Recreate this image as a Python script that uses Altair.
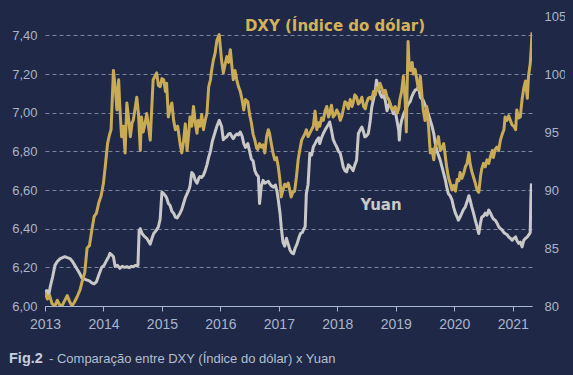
import altair as alt
import pandas as pd

# ---------------- data ----------------
dxy_year = [
    2013.00, 2013.04, 2013.08, 2013.12, 2013.17, 2013.21, 2013.25, 2013.29, 2013.33, 2013.38,
    2013.42, 2013.46, 2013.50, 2013.55, 2013.60, 2013.64, 2013.68, 2013.72, 2013.76, 2013.80,
    2013.84, 2013.88, 2013.92, 2013.96, 2014.00, 2014.03, 2014.07, 2014.10, 2014.13, 2014.17,
    2014.20, 2014.23, 2014.26, 2014.28, 2014.31, 2014.34, 2014.37, 2014.40, 2014.43, 2014.46,
    2014.49, 2014.51, 2014.54, 2014.57, 2014.60, 2014.63, 2014.65, 2014.68, 2014.71, 2014.74,
    2014.77, 2014.80, 2014.83, 2014.85, 2014.88, 2014.91, 2014.94, 2014.97, 2015.00, 2015.03,
    2015.06, 2015.08, 2015.11, 2015.14, 2015.17, 2015.20, 2015.23, 2015.27, 2015.31, 2015.34,
    2015.37, 2015.40, 2015.43, 2015.46, 2015.48, 2015.51, 2015.54, 2015.57, 2015.60, 2015.62,
    2015.65, 2015.68, 2015.71, 2015.74, 2015.77, 2015.80, 2015.83, 2015.85, 2015.88, 2015.91,
    2015.94, 2015.98, 2016.02, 2016.05, 2016.08, 2016.11, 2016.14, 2016.17, 2016.20, 2016.22,
    2016.25, 2016.28, 2016.31, 2016.34, 2016.37, 2016.40, 2016.43, 2016.47, 2016.50, 2016.53,
    2016.56, 2016.59, 2016.62, 2016.64, 2016.67, 2016.70, 2016.73, 2016.76, 2016.79, 2016.82,
    2016.84, 2016.87, 2016.90, 2016.93, 2016.96, 2016.99, 2017.02, 2017.04, 2017.07, 2017.10,
    2017.13, 2017.16, 2017.19, 2017.21, 2017.24, 2017.27, 2017.30, 2017.33, 2017.36, 2017.39,
    2017.42, 2017.45, 2017.47, 2017.50, 2017.53, 2017.56, 2017.59, 2017.62, 2017.65, 2017.68,
    2017.70, 2017.73, 2017.76, 2017.79, 2017.82, 2017.85, 2017.87, 2017.90, 2017.93, 2017.96,
    2017.99, 2018.02, 2018.05, 2018.08, 2018.10, 2018.13, 2018.16, 2018.19, 2018.22, 2018.25,
    2018.27, 2018.30, 2018.33, 2018.36, 2018.39, 2018.42, 2018.45, 2018.48, 2018.50, 2018.53,
    2018.56, 2018.59, 2018.62, 2018.65, 2018.67, 2018.70, 2018.73, 2018.76, 2018.79, 2018.82,
    2018.85, 2018.88, 2018.90, 2018.93, 2018.96, 2018.99, 2019.02, 2019.05, 2019.07, 2019.10,
    2019.13, 2019.16, 2019.18, 2019.21, 2019.23, 2019.25, 2019.28, 2019.30, 2019.33, 2019.36,
    2019.39, 2019.42, 2019.45, 2019.47, 2019.50, 2019.53, 2019.56, 2019.59, 2019.62, 2019.65,
    2019.67, 2019.70, 2019.73, 2019.76, 2019.79, 2019.82, 2019.85, 2019.87, 2019.90, 2019.93,
    2019.96, 2019.99, 2020.02, 2020.05, 2020.08, 2020.10, 2020.13, 2020.16, 2020.19, 2020.22,
    2020.25, 2020.27, 2020.30, 2020.33, 2020.36, 2020.39, 2020.42, 2020.45, 2020.47, 2020.50,
    2020.53, 2020.56, 2020.59, 2020.62, 2020.65, 2020.67, 2020.70, 2020.73, 2020.76, 2020.79,
    2020.82, 2020.85, 2020.87, 2020.90, 2020.93, 2020.96, 2020.99, 2021.02, 2021.05, 2021.07,
    2021.10, 2021.13, 2021.16, 2021.19, 2021.22, 2021.25, 2021.27, 2021.30, 2021.32, 2021.33,
]
dxy_value = [
    81.2, 80.6, 80.9, 80.2, 80.0, 80.5, 80.1, 80.0, 80.4, 80.9,
    80.4, 80.0, 80.3, 80.8, 81.4, 82.2, 82.9, 85.0, 85.2, 86.5,
    87.7, 88.0, 88.9, 89.5, 90.6, 92.0, 94.0, 94.7, 95.2, 100.3,
    98.9, 96.9, 99.5, 97.2, 94.6, 95.5, 93.2, 97.5, 96.2, 94.6,
    95.8, 96.0, 97.0, 98.0, 96.5, 93.4, 96.3, 95.0, 95.7, 96.6,
    95.5, 94.3, 97.5, 99.5, 99.8, 100.1, 99.0, 98.9, 99.6, 99.5,
    98.5, 99.2, 96.3, 97.0, 97.5, 96.0, 95.2, 95.5, 94.0, 93.2,
    94.2, 95.7, 93.4, 95.0, 96.3, 95.5, 97.2, 95.8, 94.9, 96.0,
    95.5, 96.5, 95.2, 96.0, 96.6, 98.9, 99.5, 100.3, 101.2, 101.8,
    102.9, 103.4, 101.2, 100.1, 100.8, 101.5, 101.0, 102.1, 100.5, 99.5,
    100.3, 99.5, 98.9, 98.5, 97.8, 96.9, 97.8, 97.6, 96.5, 95.8,
    94.8, 94.3, 93.6, 93.5, 94.0, 93.7, 93.9, 93.2, 94.6, 95.2,
    94.9, 94.0, 93.2, 92.6, 92.8, 92.0, 90.8, 89.4, 90.0, 90.5,
    90.3, 90.6, 89.9, 89.4, 89.8, 89.9, 91.1, 92.6, 93.5, 94.3,
    94.6, 94.9, 95.2, 94.6, 94.9, 95.2, 95.5, 96.8, 95.2, 95.8,
    95.5, 96.2, 96.0, 96.8, 97.2, 96.3, 96.6, 97.3, 96.3, 96.5,
    96.9, 96.6, 96.0, 96.4, 96.9, 97.6, 97.5, 97.0, 97.8, 97.2,
    97.5, 98.2, 98.0, 97.4, 97.6, 98.0, 97.2, 97.0, 97.5, 97.9,
    98.0, 97.8, 98.5, 98.2, 98.8, 98.6, 99.2, 98.8, 98.3, 98.6,
    98.0, 97.8, 97.5, 97.0, 96.9, 97.2, 96.6, 97.0, 97.8, 98.5,
    99.8, 97.8, 95.0, 102.8, 100.6, 100.3, 101.0, 100.0, 100.4, 99.5,
    98.6, 99.8, 98.0, 96.9, 96.0, 97.2, 95.5, 93.2, 93.5, 92.6,
    93.7, 94.0, 94.6, 93.4, 93.6, 94.0, 92.8, 92.0, 91.1, 90.6,
    90.0, 90.4, 89.9, 90.9, 90.8, 91.5, 91.0, 91.4, 92.0, 92.3,
    93.2, 92.3, 91.6, 91.1, 90.6, 90.0, 89.8, 91.2, 91.8, 92.3,
    92.0, 92.6, 92.3, 92.9, 93.4, 92.8, 93.5, 93.7, 93.4, 94.3,
    94.8, 95.2, 96.3, 96.0, 96.4, 96.0, 95.6, 95.5, 95.2, 96.9,
    96.2, 96.3, 97.8, 98.8, 99.4, 97.9, 99.8, 100.9, 102.5, 103.6,
]

yuan_year = [
    2013.00, 2013.03, 2013.06, 2013.09, 2013.13, 2013.17, 2013.21, 2013.26, 2013.30, 2013.34,
    2013.38, 2013.43, 2013.47, 2013.51, 2013.55, 2013.59, 2013.63, 2013.67, 2013.71, 2013.76,
    2013.80, 2013.84, 2013.88, 2013.92, 2013.97, 2014.01, 2014.06, 2014.09, 2014.11, 2014.14,
    2014.17, 2014.20, 2014.24, 2014.28, 2014.32, 2014.36, 2014.40, 2014.44, 2014.48, 2014.51,
    2014.55, 2014.59, 2014.61, 2014.63, 2014.66, 2014.70, 2014.74, 2014.78, 2014.80, 2014.83,
    2014.86, 2014.90, 2014.94, 2014.97, 2015.00, 2015.03, 2015.06, 2015.08, 2015.11, 2015.14,
    2015.17, 2015.20, 2015.23, 2015.26, 2015.29, 2015.31, 2015.34, 2015.37, 2015.40, 2015.43,
    2015.46, 2015.48, 2015.51, 2015.54, 2015.57, 2015.60, 2015.63, 2015.65, 2015.68, 2015.71,
    2015.74, 2015.77, 2015.80, 2015.83, 2015.86, 2015.88, 2015.91, 2015.94, 2015.98, 2016.02,
    2016.05, 2016.08, 2016.11, 2016.14, 2016.17, 2016.20, 2016.22, 2016.25, 2016.28, 2016.31,
    2016.34, 2016.37, 2016.40, 2016.43, 2016.47, 2016.50, 2016.53, 2016.56, 2016.59, 2016.62,
    2016.65, 2016.67, 2016.70, 2016.73, 2016.76, 2016.79, 2016.82, 2016.85, 2016.88, 2016.91,
    2016.94, 2016.97, 2016.99, 2017.02, 2017.04, 2017.07, 2017.10, 2017.13, 2017.16, 2017.19,
    2017.22, 2017.25, 2017.28, 2017.31, 2017.34, 2017.37, 2017.40, 2017.43, 2017.45, 2017.47,
    2017.50, 2017.53, 2017.56, 2017.59, 2017.62, 2017.65, 2017.68, 2017.70, 2017.73, 2017.76,
    2017.79, 2017.82, 2017.85, 2017.87, 2017.90, 2017.93, 2017.96, 2017.99, 2018.02, 2018.05,
    2018.08, 2018.10, 2018.13, 2018.16, 2018.19, 2018.22, 2018.25, 2018.27, 2018.30, 2018.33,
    2018.36, 2018.39, 2018.42, 2018.45, 2018.47, 2018.50, 2018.53, 2018.56, 2018.59, 2018.62,
    2018.65, 2018.67, 2018.70, 2018.73, 2018.76, 2018.79, 2018.82, 2018.85, 2018.88, 2018.90,
    2018.93, 2018.96, 2018.99, 2019.02, 2019.05, 2019.06, 2019.08, 2019.10, 2019.13, 2019.16,
    2019.19, 2019.22, 2019.25, 2019.27, 2019.30, 2019.33, 2019.36, 2019.39, 2019.42, 2019.45,
    2019.47, 2019.50, 2019.53, 2019.56, 2019.59, 2019.62, 2019.65, 2019.67, 2019.70, 2019.73,
    2019.76, 2019.79, 2019.82, 2019.85, 2019.87, 2019.90, 2019.93, 2019.96, 2019.99, 2020.02,
    2020.05, 2020.07, 2020.10, 2020.13, 2020.16, 2020.19, 2020.22, 2020.25, 2020.27, 2020.30,
    2020.33, 2020.36, 2020.39, 2020.42, 2020.45, 2020.47, 2020.50, 2020.53, 2020.56, 2020.59,
    2020.62, 2020.65, 2020.67, 2020.70, 2020.73, 2020.76, 2020.79, 2020.82, 2020.85, 2020.87,
    2020.90, 2020.93, 2020.96, 2020.99, 2021.02, 2021.05, 2021.07, 2021.10, 2021.13, 2021.16,
    2021.19, 2021.22, 2021.25, 2021.28, 2021.30, 2021.31, 2021.32,
]
yuan_value = [
    6.07, 6.08, 6.05, 6.10, 6.15, 6.21, 6.23, 6.245, 6.25, 6.255,
    6.25, 6.245, 6.23, 6.21, 6.19, 6.17, 6.145, 6.14, 6.135, 6.13,
    6.12, 6.115, 6.125, 6.16, 6.20, 6.21, 6.24, 6.255, 6.272, 6.265,
    6.255, 6.205, 6.21, 6.195, 6.205, 6.20, 6.203, 6.198, 6.205, 6.203,
    6.21, 6.21, 6.39, 6.40, 6.375, 6.36, 6.35, 6.33, 6.32, 6.35,
    6.375, 6.39, 6.41, 6.45, 6.59, 6.58, 6.57, 6.56, 6.53, 6.52,
    6.49, 6.48, 6.46, 6.455, 6.47, 6.48, 6.50, 6.53, 6.56, 6.58,
    6.60, 6.62, 6.69, 6.68, 6.65, 6.635, 6.66, 6.67, 6.665, 6.677,
    6.70, 6.73, 6.77, 6.80, 6.85, 6.87, 6.90, 6.93, 6.96, 6.93,
    6.86, 6.87, 6.875, 6.89, 6.892, 6.875, 6.866, 6.88, 6.89, 6.885,
    6.90, 6.88, 6.84, 6.82, 6.84, 6.80, 6.76, 6.75, 6.70, 6.68,
    6.67, 6.53, 6.62, 6.65, 6.635, 6.64, 6.645, 6.63, 6.62, 6.615,
    6.626, 6.59, 6.55, 6.48, 6.41, 6.33, 6.31, 6.35, 6.32, 6.29,
    6.275, 6.27, 6.30, 6.32, 6.35, 6.375, 6.38, 6.40, 6.41, 6.58,
    6.63, 6.79, 6.78, 6.823, 6.84, 6.858, 6.87, 6.84, 6.87, 6.892,
    6.91, 6.926, 6.94, 6.952, 6.909, 6.86, 6.84, 6.823, 6.80, 6.79,
    6.75, 6.72, 6.70, 6.694, 6.73, 6.72, 6.71, 6.70, 6.73, 6.754,
    6.892, 6.91, 6.926, 6.90, 6.875, 6.88, 6.892, 6.95, 7.03, 7.07,
    7.116, 7.168, 7.133, 7.10, 7.08, 7.09, 7.064, 7.01, 7.04, 7.047,
    7.02, 6.995, 7.01, 6.96, 6.909, 6.858, 6.93, 6.96, 6.99, 7.01,
    7.03, 7.047, 7.06, 7.08, 7.10, 7.116, 7.12, 7.133, 7.08, 7.07,
    7.064, 7.04, 7.02, 6.99, 6.96, 6.93, 6.892, 6.85, 6.806, 6.78,
    6.754, 6.72, 6.685, 6.65, 6.617, 6.58, 6.57, 6.55, 6.51, 6.48,
    6.46, 6.444, 6.46, 6.48, 6.50, 6.513, 6.54, 6.57, 6.55, 6.513,
    6.48, 6.444, 6.41, 6.375, 6.43, 6.46, 6.465, 6.48, 6.47, 6.496,
    6.48, 6.46, 6.45, 6.444, 6.43, 6.41, 6.40, 6.393, 6.38, 6.375,
    6.37, 6.358, 6.35, 6.34, 6.35, 6.358, 6.34, 6.324, 6.33, 6.306,
    6.34, 6.35, 6.358, 6.37, 6.38, 6.55, 6.634,
]

year_ticks = [2013, 2014, 2015, 2016, 2017, 2018, 2019, 2020, 2021]
yuan_ticks = [6.0, 6.2, 6.4, 6.6, 6.8, 7.0, 7.2, 7.4]
dxy_ticks = [80, 85, 90, 95, 100, 105]

title_text = ["DXY (Índice do dólar)"]
yuan_label = ["Yuan"]
caption_bold = ["Fig.2"]
caption_rest = ["- Comparação entre DXY (Índice do dólar) x Yuan"]

# ---------------- page background (template tweak before saving) ----------------
BG = "#1f2846"
try:
    import altair.utils.html as _ah

    class _BgTemplate:
        def __init__(self, base):
            self.base = base

        def render(self, *args, **kwargs):
            out = self.base.render(*args, **kwargs)
            return out.replace(
                "<style>",
                "<style>\n    html, body { background: " + BG + "; }",
                1,
            )

    if "standard" in _ah.TEMPLATES and not isinstance(_ah.TEMPLATES["standard"], _BgTemplate):
        _ah.TEMPLATES["standard"] = _BgTemplate(_ah.TEMPLATES["standard"])
except Exception:
    pass

# ---------------- chart ----------------
GOLD = "#c9ab55"
GREY = "#c8c8c8"
LABEL = "#a9b5ca"
GRID = "#8491ab"
FONT = "Liberation Sans"

dxy_df = pd.DataFrame({"ano": dxy_year, "dxy": dxy_value})
yuan_df = pd.DataFrame({"ano": yuan_year, "yuan": yuan_value})

x_scale = alt.Scale(domain=[2013, 2021.33], nice=False, zero=False)
x_axis = alt.Axis(
    values=year_ticks, format="d", title=None, grid=False,
    labelFontSize=14, labelFont=FONT, labelColor=LABEL, labelFlush=False,
    labelOverlap=False, labelPadding=6, domainColor="#a8b8d0", domainWidth=1,
    tickColor="#a8b8d0", tickSize=5, tickWidth=1,
)

yuan_line = alt.Chart(yuan_df).mark_line(
    color=GREY, strokeWidth=3.0, strokeJoin="round", clip=True
).encode(
    x=alt.X("ano:Q", scale=x_scale, axis=x_axis),
    y=alt.Y(
        "yuan:Q",
        scale=alt.Scale(domain=[6.0, 7.5], nice=False, zero=False),
        axis=alt.Axis(
            orient="left", values=yuan_ticks, title=None,
            labelExpr="replace(format(datum.value, '.2f'), '.', ',')",
            labelFontSize=13, labelFont=FONT, labelColor=LABEL, labelPadding=8,
            domain=False, ticks=False, grid=True, gridColor=GRID, gridDash=[4, 3],
            gridWidth=1, gridOpacity=0.9,
        ),
    ),
)

dxy_line = alt.Chart(dxy_df).mark_line(
    color=GOLD, strokeWidth=3.0, strokeJoin="round", clip=True
).encode(
    x=alt.X("ano:Q", scale=x_scale, axis=x_axis),
    y=alt.Y(
        "dxy:Q",
        scale=alt.Scale(domain=[80, 105], nice=False, zero=False),
        axis=alt.Axis(
            orient="right", values=dxy_ticks, title=None,
            labelFontSize=13, labelFont=FONT, labelColor=LABEL, labelPadding=12,
            domain=False, ticks=False, grid=False,
        ),
    ),
)

title_mark = alt.Chart(pd.DataFrame({"t": title_text})).mark_text(
    font="DejaVu Sans", fontWeight="bold", fontSize=15, color="#d2b35b",
    align="center", baseline="alphabetic",
).encode(text="t:N", x=alt.value(290), y=alt.value(15))

yuan_mark = alt.Chart(pd.DataFrame({"t": yuan_label})).mark_text(
    font="DejaVu Sans", fontWeight="bold", fontSize=15, color=GREY,
    align="center", baseline="alphabetic",
).encode(text="t:N", x=alt.value(336), y=alt.value(194))

cap_bold = alt.Chart(pd.DataFrame({"t": caption_bold})).mark_text(
    font=FONT, fontWeight="bold", fontSize=14.5, color="#c6cedb",
    align="left", baseline="alphabetic",
).encode(text="t:N", x=alt.value(-36), y=alt.value(347))

cap_rest = alt.Chart(pd.DataFrame({"t": caption_rest})).mark_text(
    font=FONT, fontSize=13, color="#b4bfd0",
    align="left", baseline="alphabetic",
).encode(text="t:N", x=alt.value(4), y=alt.value(347))

chart = alt.layer(
    yuan_line, dxy_line, title_mark, yuan_mark, cap_bold, cap_rest
).resolve_scale(
    y="independent"
).properties(
    width=487,
    height=290,
    padding={"left": 37, "top": 8, "right": 33, "bottom": 61},
    autosize=alt.AutoSizeParams(type="none"),
    background=BG,
).configure_view(
    stroke=None
)

chart.save("out.html", embed_options={"renderer": "svg", "actions": False})
